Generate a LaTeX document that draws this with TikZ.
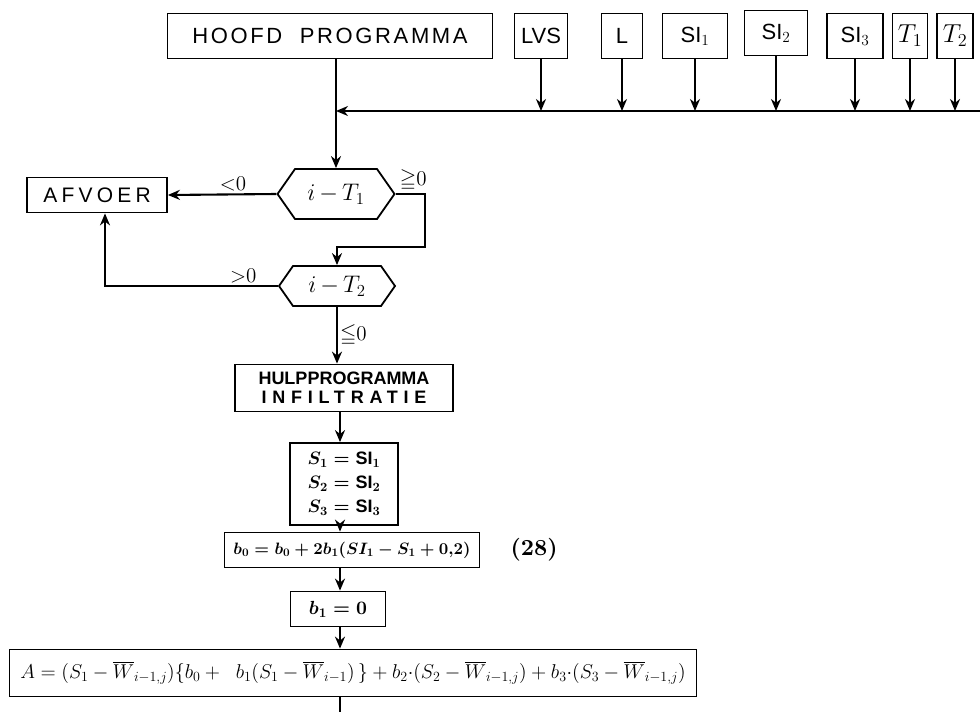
\documentclass[tikz,border=0pt]{standalone}
\usepackage{amsmath}
\usepackage{amssymb}
\usepackage{fontspec}
\setmainfont{Liberation Sans}
\DeclareFontShape{OML}{cmm}{m}{it}{<-12>cmmi10<12->cmmi12}{}
\DeclareFontShape{OML}{cmm}{b}{it}{<->cmmib10}{}
\DeclareFontShape{OMS}{cmsy}{m}{n}{<->cmsy10}{}
\DeclareFontShape{OMS}{cmsy}{b}{n}{<->cmbsy10}{}
\DeclareFontShape{OMX}{cmex}{m}{n}{<->cmex10}{}
\DeclareFontShape{OT1}{cmr}{m}{n}{<-12>cmr10<12->cmr12}{}
\DeclareFontShape{OT1}{cmr}{bx}{n}{<->cmbx10}{}
\usetikzlibrary{arrows.meta,positioning,calc,shapes.symbols}
\tikzset{
  blk/.style={draw, line width=1.8pt, align=center, inner sep=2pt},
  hexa/.style={draw, line width=1.8pt, shape=signal, signal to=east and west,
               signal pointer angle=110, inner sep=0pt, font=\fontsize{24}{28}\selectfont},
  inp/.style={blk, minimum height=45pt, font=\fontsize{22}{26}\selectfont},
  sig/.style={-{Stealth[length=12pt,width=10pt]}, line width=2.1pt},
  lin/.style={line width=2.1pt},
  lbl/.style={font=\fontsize{21}{25}\selectfont, inner sep=2pt},
}

\begin{document}
\begin{tikzpicture}[x=1pt,y=-1pt]
    \useasboundingbox (0,0) rectangle (980,712);
    % invoer
    \node[inp,minimum width=325pt] (hoofd) at (330,36) {{\addfontfeatures{LetterSpace=12}HOOFD\ \ PROGRAMMA}};
    \node[inp,minimum width=53pt] (lvs) at (541,36) {LVS};
    \node[inp,minimum width=41pt] (lang) at (622,36) {L};
    \node[inp,minimum width=65pt] (si1) at (695,36) {SI$_1$};
    \node[inp,minimum width=63pt] (si2) at (776,33) {SI$_2$};
    \node[inp,minimum width=56pt] (si3) at (855,36) {SI$_3$};
    \node[inp,minimum width=35pt,inner sep=1pt,font=\fontsize{26}{30}\selectfont] (t1) at (910,36) {$T_1$};
    \node[inp,minimum width=36pt,inner sep=1pt,font=\fontsize{26}{30}\selectfont] (t2) at (955,36) {$T_2$};
    \coordinate (bus) at (980,111);
    % beslissingen
    \node[hexa,minimum width=117pt,minimum height=50pt] (tst1) at (336,194) {$i\,{-}\,T_1$};
    \node[hexa,minimum width=116pt,minimum height=40pt] (tst2) at (337,286) {$i\,{-}\,T_2$};
    \node[blk,minimum width=140pt,minimum height=35pt,font=\fontsize{21}{25}\selectfont] (afvoer) at (97,195) {{\addfontfeatures{LetterSpace=20}AFVOER}};
    \coordinate (kruis) at (425,247);
    % rekenstappen
    \node[blk,minimum width=218pt,minimum height=47pt,font=\fontsize{18}{19}\selectfont\bfseries] (hulp) at (344,388) {HULPPROGRAMMA\\{\addfontfeatures{LetterSpace=32}INFILTRATIE}};
    \node[blk,minimum width=108pt,minimum height=82pt,font=\fontsize{18}{24}\selectfont\bfseries\boldmath] (sbox) at (344,484) {$S_1 = \text{SI}_1$\\$S_2 = \text{SI}_2$\\$S_3 = \text{SI}_3$};
    \node[blk,minimum width=255pt,minimum height=35pt,font=\fontsize{16.5}{20}\selectfont\boldmath] (bnul) at (352,550) {$b_0 = b_0 + 2b_1(SI_1 - S_1 + 0{,}2)$};
    \node[lbl,right=28pt of bnul,font=\fontsize{23}{27}\selectfont\boldmath] (nr) {$(28)$};
    \node[blk,minimum width=95pt,minimum height=35pt,font=\fontsize{19}{22}\selectfont\boldmath] (been) at (338,609) {$b_1 = 0$};
    \node[blk,minimum width=687pt,minimum height=47pt,font=\fontsize{20}{24}\selectfont] (form) at (353,673) {$A = (S_1 - \overline{W}_{i-1,j})\{b_0 +\ \ b_1(S_1 - \overline{W}_{i-1})\,\} + b_2{\cdot}(S_2 - \overline{W}_{i-1,j}) + b_3{\cdot}(S_3 - \overline{W}_{i-1,j})$};
    \coordinate (uit) at (340,712);
    % verbindingen
    \foreach \nm in {lvs,lang,si1,si2,si3,t1,t2}
      \draw[sig] (\nm) -- (\nm |- bus);
    \draw[sig] (bus) -- (bus -| tst1);
    \draw[sig] (hoofd.south -| tst1) -- (tst1.north);
    \draw[sig] (tst1.west) -- node[lbl,above,pos=0.4]{${<}0$} (afvoer.east);
    \draw[sig] (tst1.east) -| node[lbl,above,pos=0.3]{${\geqq}0$} (kruis) -| (tst2.north);
    \draw[sig] (tst2.west) -| node[lbl,above,pos=0.1]{${>}0$} ([xshift=8pt]afvoer.south);
    \draw[sig] (tst2.south) -- node[lbl,right]{${\leqq}0$} (hulp.north -| tst2.south);
    \draw[sig] (hulp.south -| uit) -- (sbox.north -| uit);
    \draw[sig] (sbox.south -| uit) -- (bnul.north -| uit);
    \draw[sig] (bnul.south -| uit) -- (been.north -| uit);
    \draw[sig] (been.south -| uit) -- (form.north -| uit);
    \draw[lin] (form.south -| uit) -- (uit);
  \end{tikzpicture}
\end{document}
